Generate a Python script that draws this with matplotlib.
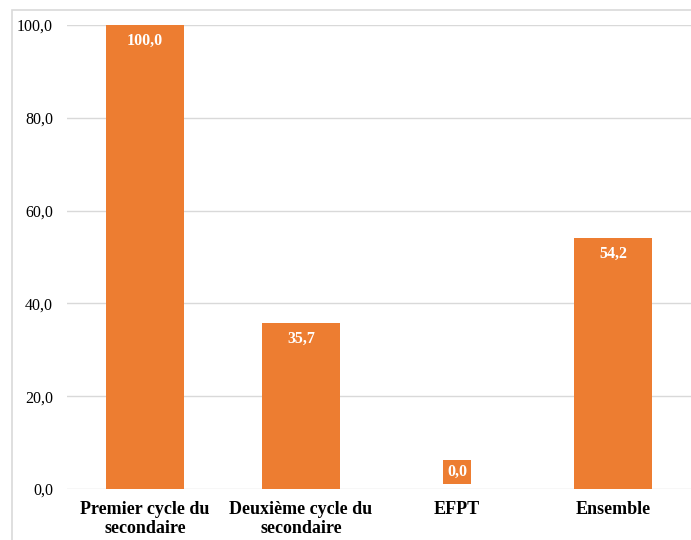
import matplotlib.pyplot as plt
from matplotlib.patches import Rectangle

categories = ['Premier cycle du\nsecondaire', 'Deuxième cycle du\nsecondaire', 'EFPT', 'Ensemble']
values = [100.0, 35.7, 0.0, 54.2]
yticks = [0, 20, 40, 60, 80, 100]

plt.rcParams['font.family'] = ['Liberation Serif', 'DejaVu Serif']

W, H = 691, 540
fig = plt.figure(figsize=(W / 100, H / 100), dpi=100)
ax = fig.add_axes([67 / W, (H - 489) / H, (W - 67) / W, (489 - 25) / H])

# chart frame (Excel style)
fig.patches.append(Rectangle((12 / W, -0.1), 1.2, (H - 10) / H + 0.1,
                             transform=fig.transFigure, fill=False,
                             edgecolor='#D9D9D9', linewidth=1.2))

orange = '#ED7D31'
x = range(len(categories))
ax.bar(x, values, width=0.5, color=orange, zorder=2)

ax.set_xlim(-0.5, len(categories) - 0.5)
ax.set_ylim(0, 100)
ax.set_yticks(yticks)
ax.set_yticklabels([f'{v:.1f}'.replace('.', ',') for v in yticks], fontsize=11.5)
ax.set_xticks(list(x))
ax.set_xticklabels(categories, fontsize=13, fontweight='bold', linespacing=1.12)
ax.tick_params(length=0)
ax.tick_params(axis='y', pad=10)
ax.tick_params(axis='x', pad=9)
ax.grid(axis='y', color='#D9D9D9', linewidth=1, zorder=0)
for s in ax.spines.values():
    s.set_visible(False)

for xi, v in zip(x, values):
    lab = f'{v:.1f}'.replace('.', ',')
    if v > 5:
        ax.annotate(lab, (xi, v), xytext=(0, -11.5), textcoords='offset points',
                    ha='center', va='center', color='white', fontsize=11.5,
                    fontweight='bold')
    else:
        ax.annotate(lab, (xi, v), xytext=(0, 12), textcoords='offset points',
                    ha='center', va='center', color='white', fontsize=11.5,
                    fontweight='bold',
                    bbox=dict(boxstyle='square,pad=0.25', fc=orange, ec='none'))

fig.savefig('out.png', dpi=100)
